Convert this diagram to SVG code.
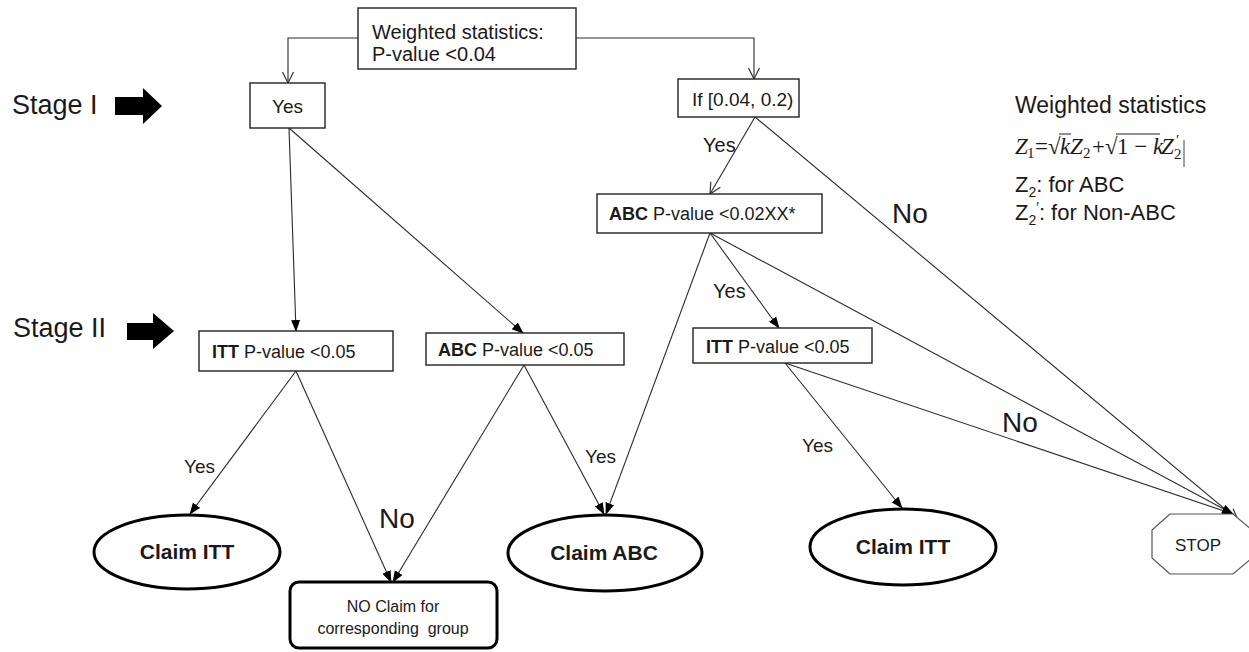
<svg xmlns="http://www.w3.org/2000/svg" width="1249" height="652" viewBox="0 0 1249 652">
<defs>
<marker id="fa" markerUnits="userSpaceOnUse" markerWidth="12" markerHeight="10" refX="11" refY="5" orient="auto"><path d="M0,0.5 L12,5 L0,9.5 z" fill="#000"/></marker>
<marker id="oa" markerUnits="userSpaceOnUse" markerWidth="14" markerHeight="14" refX="12" refY="7" orient="auto"><path d="M1,1.5 L12,7 L1,12.5" fill="none" stroke="#333" stroke-width="1.2"/></marker>
</defs>
<style>
text{font-family:"Liberation Sans",Arial,sans-serif;fill:#1a1a1a}
.box{fill:#fff;stroke:#222;stroke-width:1.4}
.ell{fill:#fff;stroke:#000;stroke-width:3}
.c{fill:none;stroke:#2a2a2a;stroke-width:1.1}
.f{marker-end:url(#fa)}
.o{marker-end:url(#oa)}
.t{font-size:19px}
.tb{font-size:20px}
.b{font-size:18px}
.lbl{font-size:20px}
.big{font-size:28px}
.stage{font-size:27px}
.claim{font-size:21px;font-weight:bold}
.m{font-family:"Liberation Serif","Times New Roman",serif;font-size:23px}
.ms{font-family:"Liberation Serif","Times New Roman",serif;font-size:15px}
</style>

<g id="connectors">
<path class="c o" d="M358,38 H288 V83"/>
<path class="c o" d="M576,38 H754 V79"/>
<line class="c f" x1="289" y1="128" x2="296" y2="331"/>
<line class="c f" x1="289" y1="128" x2="523" y2="333"/>
<line class="c o" x1="755" y1="117" x2="710" y2="194"/>
<line class="c o" x1="755" y1="117" x2="1238" y2="520"/>
<line class="c f" x1="710" y1="233" x2="779" y2="328"/>
<line class="c f" x1="710" y1="233" x2="606" y2="514"/>
<line class="c f" x1="710" y1="233" x2="1233" y2="514"/>
<line class="c f" x1="785" y1="363" x2="902" y2="508"/>
<line class="c f" x1="785" y1="363" x2="1233" y2="514"/>
<line class="c f" x1="296" y1="371" x2="190" y2="514"/>
<line class="c f" x1="296" y1="371" x2="391" y2="582"/>
<line class="c f" x1="524" y1="365" x2="393" y2="582"/>
<line class="c f" x1="524" y1="365" x2="604" y2="514"/>
</g>

<g id="connector-labels">
<text class="lbl" x="703" y="152">Yes</text>
<text class="big" x="892" y="223">No</text>
<text class="lbl" x="713" y="298">Yes</text>
<text class="big" x="1002" y="432">No</text>
<text class="t" x="184" y="473">Yes</text>
<text class="big" x="379" y="528">No</text>
<text class="t" x="585" y="463">Yes</text>
<text class="t" x="802" y="452">Yes</text>
</g>

<g id="stage1">
<text class="stage" x="12" y="114">Stage I</text>
<path d="M115,97 H143 V88 L162,106 L143,124 V115 H115 Z" fill="#000"/>
</g>
<g id="stage2">
<text class="stage" x="13" y="337">Stage II</text>
<path d="M127,323 H153 V313 L174,331 L153,349 V340 H127 Z" fill="#000"/>
</g>

<g id="n-top">
<rect class="box" x="358" y="8" width="218" height="61"/>
<text class="tb" x="372" y="39">Weighted statistics:</text>
<text class="tb" x="372" y="61">P-value &lt;0.04</text>
</g>
<g id="n-yes">
<rect class="box" x="250" y="83" width="75" height="45"/>
<text class="t" x="287.5" y="113" text-anchor="middle">Yes</text>
</g>
<g id="n-if">
<rect class="box" x="678" y="79" width="121" height="38"/>
<text class="t" x="692" y="106">If [0.04, 0.2)</text>
</g>
<g id="n-abc002">
<rect class="box" x="597" y="194" width="225" height="39"/>
<text class="b" x="609" y="220"><tspan font-weight="bold">ABC</tspan> P-value &lt;0.02XX*</text>
</g>
<g id="n-itt1">
<rect class="box" x="199" y="331" width="194" height="40"/>
<text class="b" x="212" y="358"><tspan font-weight="bold">ITT</tspan> P-value &lt;0.05</text>
</g>
<g id="n-abc005">
<rect class="box" x="426" y="333" width="198" height="32"/>
<text class="b" x="438" y="356"><tspan font-weight="bold">ABC</tspan> P-value &lt;0.05</text>
</g>
<g id="n-itt2">
<rect class="box" x="693" y="328" width="179" height="35"/>
<text class="b" x="706" y="353"><tspan font-weight="bold">ITT</tspan> P-value &lt;0.05</text>
</g>
<g id="n-claim-itt1">
<ellipse class="ell" cx="187" cy="552" rx="93" ry="37"/>
<text class="claim" x="187" y="559" text-anchor="middle">Claim ITT</text>
</g>
<g id="n-claim-abc">
<ellipse class="ell" cx="605" cy="553" rx="97" ry="38"/>
<text class="claim" x="604" y="560" text-anchor="middle">Claim ABC</text>
</g>
<g id="n-claim-itt2">
<ellipse class="ell" cx="903" cy="547" rx="93" ry="38"/>
<text class="claim" x="903" y="554" text-anchor="middle">Claim ITT</text>
</g>
<g id="n-noclaim">
<rect x="290" y="582" width="207" height="66" rx="9" fill="#fff" stroke="#000" stroke-width="3"/>
<text x="393" y="612" font-size="16" text-anchor="middle">NO Claim for</text>
<text x="393" y="634" font-size="16" text-anchor="middle" xml:space="preserve">corresponding  group</text>
</g>
<g id="n-stop">
<polygon points="1170,514 1233,514 1252,530 1252,558 1233,574 1170,574 1152,558 1152,530" fill="#fff" stroke="#555" stroke-width="1.2"/>
<text x="1198" y="551" font-size="17" text-anchor="middle">STOP</text>
</g>

<g id="legend">
<text x="1015" y="113" font-size="23">Weighted statistics</text>
<text class="m" x="1015" y="154" font-style="italic">Z</text>
<text class="ms" x="1027" y="158">1</text>
<text class="m" x="1035" y="154">=</text>
<text class="m" x="1048" y="154">√</text>
<line x1="1059" y1="134" x2="1071" y2="134" stroke="#222" stroke-width="1"/>
<text class="m" x="1060" y="154" font-style="italic">k</text>
<text class="m" x="1070" y="154" font-style="italic">Z</text>
<text class="ms" x="1083" y="158">2</text>
<text class="m" x="1092" y="154">+</text>
<text class="m" x="1105" y="154">√</text>
<line x1="1116" y1="134" x2="1160" y2="134" stroke="#222" stroke-width="1"/>
<text class="m" x="1117" y="154">1 − <tspan font-style="italic">k</tspan></text>
<text class="m" x="1161" y="154" font-style="italic">Z</text>
<text class="ms" x="1176" y="145">′</text>
<text class="ms" x="1174" y="159">2</text>
<line x1="1184" y1="140" x2="1184" y2="167" stroke="#444" stroke-width="1"/>
<text x="1015" y="192" font-size="22">Z<tspan font-size="14" dy="5">2</tspan><tspan dy="-5">: for ABC</tspan></text>
<text x="1015" y="220" font-size="22">Z<tspan font-size="14" dy="5">2</tspan><tspan font-size="14" dy="-13">′</tspan><tspan dy="8">: for Non-ABC</tspan></text>
</g>
</svg>
